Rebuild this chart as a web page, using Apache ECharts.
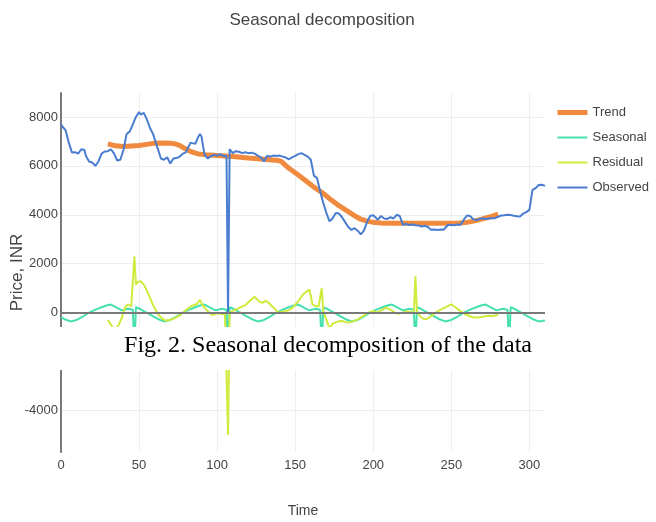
<!DOCTYPE html>
<html>
<head>
<meta charset="utf-8">
<script src="https://cdn.jsdelivr.net/npm/echarts@6/dist/echarts.min.js"></script>
<style>
html,body{margin:0;padding:0;background:#fff;}
#chart{width:656px;height:522px;}
</style>
</head>
<body>
<div id="chart"></div>
<script>
var SANS = "'Liberation Sans',Arial,sans-serif";

var xTicks = [0, 50, 100, 150, 200, 250, 300];
var yTicks = [-4000, -2000, 0, 2000, 4000, 6000, 8000];

var obsT = [0,1,3,5,7,9,11,13,15,16,18,20,22,24,26,28,30,32,34,36,38,40,42,44,46,48,50,51,52,53,55,57,59,61,62,64,66,68,70,72,74,76,78,80,81,83,84,86,88,89,90,91,92,94,96,98,100,102,104,105,106,107,108,110,112,114,116,118,120,122,124,126,128,130,132,134,136,138,140,142,144,146,148,150,152,154,156,158,160,162,164,166,168,170,172,174,176,178,180,182,184,186,188,190,192,194,196,198,200,201,203,205,207,209,211,213,215,217,219,221,223,225,227,229,231,233,235,237,239,241,243,245,246,248,250,252,254,256,258,260,262,264,266,268,270,272,274,276,278,280,282,284,286,288,290,292,294,296,298,300,301,302,304,305,306,307,308,309,310];
var obsV = [7700,7600,7450,6950,6550,6560,6500,6680,6650,6400,6180,6140,6000,6180,6500,6590,6600,6680,6500,6220,6250,6650,7300,7400,7700,8000,8200,8100,8050,8170,7900,7550,7300,6900,6700,6300,6250,6350,6100,6300,6320,6380,6500,6550,6700,6950,7000,6900,7200,7300,7200,6800,6450,6300,6400,6450,6420,6480,6400,6450,6400,0,6680,6520,6600,6580,6520,6560,6520,6540,6500,6420,6350,6180,6410,6380,6420,6400,6420,6380,6340,6270,6350,6410,6480,6520,6450,6380,6250,5600,5500,4950,4480,4070,3730,3860,4070,4050,3900,3700,3500,3380,3450,3350,3200,3350,3700,3950,3980,4050,3800,3950,3850,3830,3900,3850,4000,3950,3590,3620,3580,3600,3570,3560,3520,3550,3500,3390,3400,3380,3400,3390,3320,3590,3580,3570,3600,3590,3800,3970,3950,3820,3790,3820,3860,3830,3850,3860,3860,3920,3970,3980,4000,3990,3960,3940,3930,4050,4110,4200,4610,5020,5090,5150,5220,5190,5230,5150,5180];

var trendT = [30,35,40,45,50,55,60,65,70,73,76,79,82,85,88,92,96,100,110,120,130,139,141,146,152,157,162,168,173,178,184,188,192,196,200,205,210,220,230,240,250,255,260,265,270,275,280];
var trendV = [6900,6820,6790,6810,6830,6880,6930,6940,6930,6900,6840,6720,6620,6540,6490,6460,6440,6420,6380,6320,6270,6220,6180,5900,5630,5380,5130,4870,4610,4370,4130,3960,3820,3740,3690,3665,3650,3650,3650,3650,3650,3660,3690,3750,3830,3920,4030];

var seasT = [0,2,6,10,14,18,22,26,29,32,35,39,43,46,47,48,50,53,56,59,62,66,70,74,78,82,86,89,92,95,99,103,106,107,108,110,113,116,119,122,126,130,134,138,142,146,149,152,155,159,163,166,167,168,170,173,176,179,182,186,190,194,198,202,206,209,212,215,219,223,226,227,228,230,233,236,239,242,246,250,254,258,262,266,269,272,275,279,283,286,287,288,290,293,296,299,302,306,310];
var seasV = [-190,-260,-360,-300,-160,0,120,220,290,330,220,90,160,120,-1450,220,170,60,-40,-150,-260,-360,-300,-160,0,120,220,290,330,220,90,160,120,-1450,220,170,60,-40,-150,-260,-360,-300,-160,0,120,220,290,330,220,90,160,120,-1450,220,170,60,-40,-150,-260,-360,-300,-160,0,120,220,290,330,220,90,160,120,-1450,220,170,60,-40,-150,-260,-360,-300,-160,0,120,220,290,330,220,90,160,120,-1450,220,170,60,-40,-150,-260,-360,-320];

var resT = [30,31,33,35,37,39,41,43,45,46,47,48,49,51,53,55,57,59,61,63,65,67,69,71,73,75,77,79,81,83,85,87,89,90,91,93,95,97,99,101,103,105,106,107,108,110,112,114,116,118,120,122,124,125,127,129,131,133,135,137,139,141,143,145,147,149,151,153,155,157,159,160,161,163,165,166,167,168,170,172,174,176,178,180,182,184,186,188,190,192,194,196,198,200,202,204,206,208,210,212,214,216,218,220,222,224,226,227,228,230,232,234,236,238,240,242,244,246,248,250,252,254,256,258,260,262,264,266,268,270,272,274,276,278,280];
var resV = [-300,-400,-600,-700,-500,-200,200,340,250,300,2300,1140,1250,1280,1150,900,600,300,70,-130,-250,-330,-300,-280,-220,-150,-70,50,150,250,300,350,520,450,270,130,0,-100,-50,-20,-60,-70,-100,-5000,0,70,120,180,250,300,420,540,650,670,450,400,480,400,270,150,0,30,50,80,130,250,400,550,740,850,940,700,340,270,250,200,1000,50,-300,-650,-450,-400,-350,-340,-380,-400,-380,-340,-280,-200,-120,-20,30,70,0,50,120,200,150,80,0,-50,-20,30,50,30,0,1480,50,-150,-250,-270,-200,-100,0,80,150,200,280,340,250,150,50,-30,-100,-150,-190,-200,-190,-170,-150,-130,-140,-120,-100];

function pairs(t, v) { return t.map(function (x, i) { return [x, v[i]]; }); }
function plain(v) { return String(v); }

var chart = echarts.init(document.getElementById('chart'), null, {renderer: 'canvas'});
chart.setOption({
  animation: false,
  backgroundColor: '#ffffff',
  title: {
    text: 'Seasonal decomposition',
    left: 322, top: 12, padding: 0, textAlign: 'center',
    textStyle: {fontSize: 17, fontWeight: 'normal', color: '#444', fontFamily: SANS}
  },
  legend: {
    orient: 'vertical', left: 555, top: 106, padding: 0,
    itemWidth: 30, itemHeight: 14, itemGap: 12,
    itemStyle: {opacity: 0},
    textStyle: {fontSize: 13, color: '#444', fontFamily: SANS},
    data: [
      {name: 'Trend', lineStyle: {width: 5}},
      {name: 'Seasonal', lineStyle: {width: 2}},
      {name: 'Residual', lineStyle: {width: 2}},
      {name: 'Observed', lineStyle: {width: 2}}
    ]
  },
  grid: {left: 61, right: 111, top: 93, bottom: 70, containLabel: false, outerBoundsMode: 'none'},
  xAxis: {
    type: 'value', min: 0, max: 310,
    name: 'Time', nameLocation: 'middle', nameGap: 52, nameMoveOverlap: false,
    nameTextStyle: {fontSize: 14, color: '#444', fontFamily: SANS},
    axisLine: {show: false},
    axisTick: {show: false, customValues: xTicks},
    axisLabel: {customValues: xTicks, formatter: plain, fontSize: 13, color: '#444', fontFamily: SANS, margin: 7},
    splitLine: {show: true, lineStyle: {color: '#eeeeee', width: 1}}
  },
  yAxis: {
    type: 'value', min: -5700, max: 8980,
    name: 'Price, INR', nameLocation: 'middle', nameGap: 35, nameRotate: 90, nameMoveOverlap: false,
    nameTextStyle: {fontSize: 17, color: '#444', fontFamily: SANS},
    axisLine: {show: true, onZero: false, lineStyle: {color: '#7a7a7a', width: 2}},
    axisTick: {show: false, customValues: yTicks},
    axisLabel: {customValues: yTicks, formatter: plain, fontSize: 13, color: '#444', fontFamily: SANS, margin: 3},
    splitLine: {show: true, lineStyle: {color: '#eeeeee', width: 1}}
  },
  series: [
    {
      name: 'Trend', type: 'line', data: pairs(trendT, trendV), symbol: 'none',
      lineStyle: {width: 5, color: '#ef8a3e'}, itemStyle: {color: '#ef8a3e'},
      markLine: {
        silent: true, symbol: 'none', label: {show: false},
        lineStyle: {color: '#7a7a7a', width: 2, type: 'solid'},
        data: [{yAxis: 0}]
      }
    },
    {
      name: 'Seasonal', type: 'line', data: pairs(seasT, seasV), symbol: 'none',
      lineStyle: {width: 2, color: '#45e0ae'}, itemStyle: {color: '#45e0ae'}
    },
    {
      name: 'Residual', type: 'line', data: pairs(resT, resV), symbol: 'none',
      lineStyle: {width: 2, color: '#d2ea3e'}, itemStyle: {color: '#d2ea3e'}
    },
    {
      name: 'Observed', type: 'line', data: pairs(obsT, obsV), symbol: 'none',
      lineStyle: {width: 2, color: '#4a7dd0'}, itemStyle: {color: '#4a7dd0'}
    }
  ],
  graphic: [
    {
      type: 'rect', z: 100, silent: true,
      shape: {x: 0, y: 327, width: 656, height: 43},
      style: {fill: '#ffffff'}
    },
    {
      type: 'text', z: 101, silent: true, x: 328, y: 346,
      style: {
        text: 'Fig. 2. Seasonal decomposition of the data',
        font: "24px 'Liberation Serif','Times New Roman',serif",
        fill: '#000', align: 'center', verticalAlign: 'middle'
      }
    }
  ]
});
</script>
</body>
</html>
